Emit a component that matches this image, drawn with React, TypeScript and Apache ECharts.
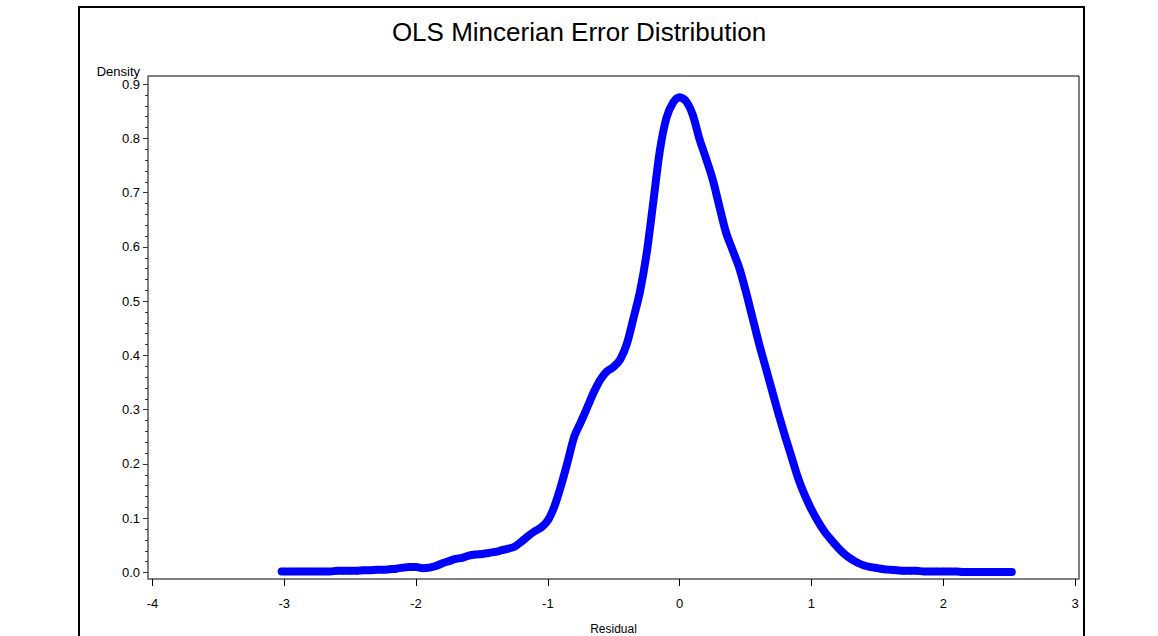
import React, { useEffect, useRef } from "react";
import * as echarts from "echarts";

const chartTitle = "OLS Mincerian Error Distribution";
const xAxisName = "Residual";
const yAxisName = "Density";

const residuals = [
  -3.02, -3.0, -2.95, -2.9, -2.85, -2.8, -2.75, -2.7, -2.65, -2.6, -2.55, -2.5,
  -2.45, -2.4, -2.35, -2.3, -2.25, -2.2, -2.15, -2.1, -2.05, -2.0, -1.95, -1.9,
  -1.85, -1.8, -1.75, -1.7, -1.65, -1.6, -1.55, -1.5, -1.45, -1.4, -1.35, -1.3,
  -1.25, -1.2, -1.15, -1.1, -1.05, -1.0, -0.95, -0.9, -0.85, -0.8, -0.75, -0.7,
  -0.65, -0.6, -0.55, -0.5, -0.45, -0.4, -0.35, -0.3, -0.25, -0.2, -0.15, -0.1,
  -0.05, 0.0, 0.05, 0.1, 0.15, 0.2, 0.25, 0.3, 0.35, 0.4, 0.45, 0.5,
  0.55, 0.6, 0.65, 0.7, 0.75, 0.8, 0.85, 0.9, 0.95, 1.0, 1.05, 1.1,
  1.15, 1.2, 1.25, 1.3, 1.35, 1.4, 1.45, 1.5, 1.55, 1.6, 1.65, 1.7,
  1.75, 1.8, 1.85, 1.9, 1.95, 2.0, 2.05, 2.1, 2.15, 2.2, 2.25, 2.3,
  2.35, 2.4, 2.45, 2.5, 2.52,
];

const densities = [
  0.002, 0.002, 0.002, 0.002, 0.002, 0.002, 0.002, 0.002, 0.002, 0.003, 0.003, 0.003,
  0.003, 0.004, 0.004, 0.005, 0.005, 0.006, 0.007, 0.009, 0.01, 0.01, 0.008, 0.009,
  0.012, 0.017, 0.021, 0.025, 0.027, 0.031, 0.033, 0.034, 0.036, 0.038, 0.041, 0.044,
  0.048, 0.057, 0.067, 0.076, 0.083, 0.096, 0.122, 0.16, 0.204, 0.25, 0.277, 0.305,
  0.333, 0.356, 0.371, 0.379, 0.393, 0.422, 0.469, 0.519, 0.589, 0.683, 0.778, 0.838,
  0.866, 0.876, 0.868, 0.843, 0.799, 0.763, 0.725, 0.676, 0.628, 0.595, 0.563, 0.52,
  0.472, 0.424, 0.38, 0.336, 0.292, 0.251, 0.212, 0.173, 0.142, 0.116, 0.094, 0.075,
  0.06, 0.046, 0.034, 0.025, 0.018, 0.013, 0.01, 0.008, 0.006, 0.005, 0.004, 0.003,
  0.003, 0.003, 0.002, 0.002, 0.002, 0.002, 0.002, 0.002, 0.001, 0.001, 0.001, 0.001,
  0.001, 0.001, 0.001, 0.001, 0.001,
];

const xTickValues = [-4, -3, -2, -1, 0, 1, 2, 3];
const yTickValues = [0, 0.1, 0.2, 0.3, 0.4, 0.5, 0.6, 0.7, 0.8, 0.9];
const yMinorTickValues = [
  0, 0.02, 0.04, 0.06, 0.08, 0.1, 0.12, 0.14, 0.16, 0.18, 0.2, 0.22, 0.24, 0.26, 0.28,
  0.3, 0.32, 0.34, 0.36, 0.38, 0.4, 0.42, 0.44, 0.46, 0.48, 0.5, 0.52, 0.54, 0.56, 0.58,
  0.6, 0.62, 0.64, 0.66, 0.68, 0.7, 0.72, 0.74, 0.76, 0.78, 0.8, 0.82, 0.84, 0.86, 0.88, 0.9,
];

const FONT = "'Liberation Sans', Arial, sans-serif";

export default function App() {
  const ref = useRef<HTMLDivElement>(null);

  useEffect(() => {
    if (!ref.current) return;
    const chart = echarts.init(ref.current, undefined, { renderer: "svg" });
    const yMin = -0.012;
    const yMax = 0.915;
    chart.setOption({
      animation: false,
      backgroundColor: "#ffffff",
      textStyle: { fontFamily: FONT },
      title: {
        text: chartTitle,
        left: "center",
        top: 14,
        textStyle: { fontFamily: FONT, fontSize: 26, fontWeight: "normal", color: "#000" },
      },
      grid: {
        left: 148,
        right: 79,
        top: 76,
        bottom: 57,
        outerBoundsMode: "none",
        containLabel: false,
        show: true,
        borderColor: "#000",
        borderWidth: 1,
        backgroundColor: "transparent",
      },
      xAxis: {
        type: "value",
        min: -4.034,
        max: 3.03,
        name: xAxisName,
        nameLocation: "middle",
        nameGap: 44,
        nameTextStyle: { fontFamily: FONT, fontSize: 12, color: "#000", lineHeight: 12 },
        axisLine: { show: true, onZero: false, lineStyle: { color: "#808080", width: 2 } },
        axisTick: { show: true, customValues: xTickValues, length: 7, lineStyle: { color: "#000", width: 1 } },
        axisLabel: {
          show: true,
          customValues: xTickValues,
          margin: 18,
          fontSize: 13,
          color: "#000",
          fontFamily: FONT,
          formatter: (v: number) => String(v),
        },
        splitLine: { show: false },
      },
      yAxis: [
        {
          type: "value",
          min: yMin,
          max: yMax,
          position: "left",
          name: yAxisName,
          nameLocation: "end",
          nameGap: 3,
          nameTextStyle: {
            fontFamily: FONT,
            fontSize: 13,
            color: "#000",
            align: "right",
            verticalAlign: "middle",
            padding: [0, 8, 0, 0],
          },
          axisLine: { show: true, onZero: false, lineStyle: { color: "#808080", width: 1.5 } },
          axisTick: { show: true, customValues: yTickValues, length: 5, lineStyle: { color: "#333", width: 1 } },
          axisLabel: {
            show: true,
            customValues: yTickValues,
            margin: 8,
            fontSize: 13,
            color: "#000",
            fontFamily: FONT,
            formatter: (v: number) => v.toFixed(1),
          },
          splitLine: { show: false },
        },
        {
          type: "value",
          min: yMin,
          max: yMax,
          position: "left",
          offset: 0,
          axisLine: { show: false, onZero: false },
          axisTick: { show: true, customValues: yMinorTickValues, length: 3, lineStyle: { color: "#333", width: 1 } },
          axisLabel: { show: false },
          splitLine: { show: false },
        },
      ],
      series: [
        {
          type: "line",
          yAxisIndex: 0,
          data: residuals.map((x, i) => [x, densities[i]]),
          symbol: "circle",
          symbolSize: 7,
          showAllSymbol: true,
          smooth: 0.3,
          lineStyle: { color: "#0000ff", width: 8, cap: "round", join: "round" },
          itemStyle: { color: "#0000ff" },
          silent: true,
        },
      ],
      graphic: [
        {
          type: "rect",
          silent: true,
          shape: { x: 79, y: 7, width: 1005, height: 700 },
          style: { fill: "none", stroke: "#000", lineWidth: 2 },
        },
      ],
    });
    return () => chart.dispose();
  }, []);

  return (
    <div
      ref={ref}
      style={{ position: "fixed", left: 0, top: 0, width: 1158, height: 636, background: "#fff" }}
    />
  );
}
